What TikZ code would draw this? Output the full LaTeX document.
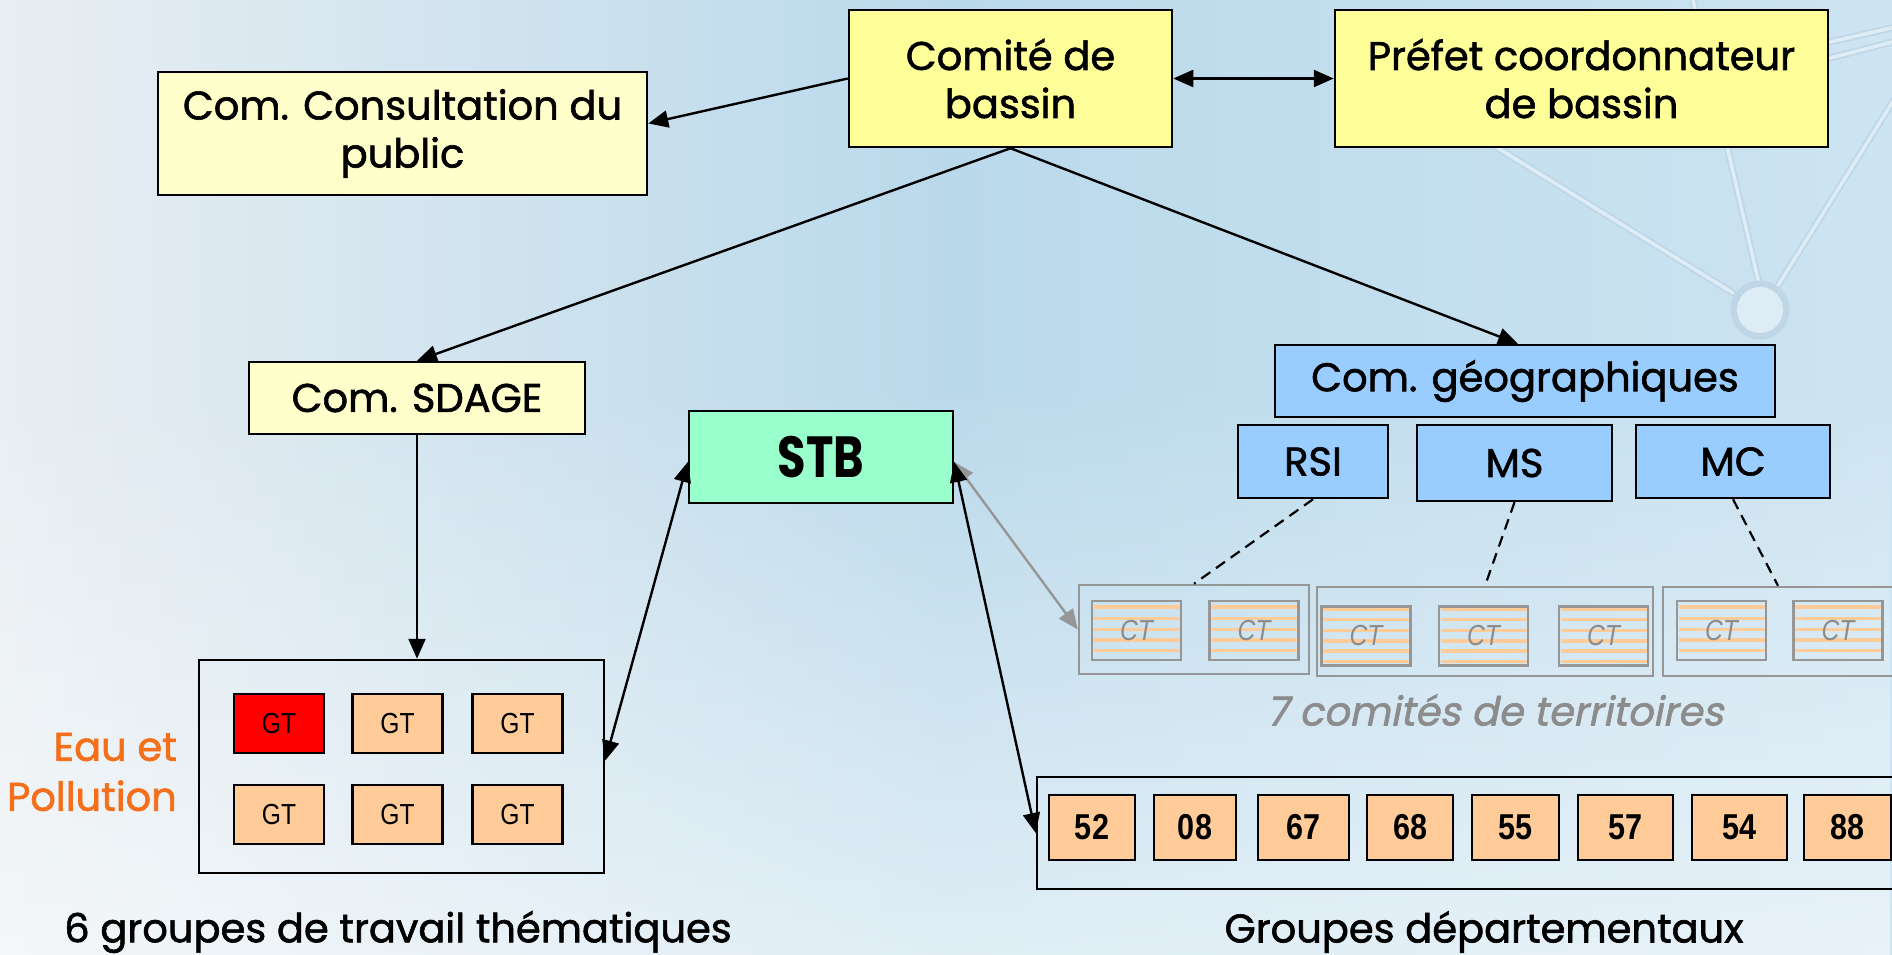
\documentclass[tikz,border=0pt]{standalone}
\usepackage{fontspec}
\setmainfont{Poppins}
\newfontfamily\cg[FakeBold=1.5]{Poppins}
\newfontfamily\cgb[FakeStretch=0.8]{Poppins}
\newfontfamily\cgit[FakeSlant=0.2,FakeBold=1.5]{Poppins}
\newfontfamily\ar[FakeStretch=0.85]{Liberation Sans}
\usetikzlibrary{arrows.meta,fadings,calc}
\definecolor{bgL}{RGB}{232,238,242}
\definecolor{bgM}{RGB}{186,217,235}
\definecolor{bgR}{RGB}{205,228,241}
\definecolor{netA}{RGB}{190,214,230}
\definecolor{netB}{RGB}{222,236,245}
\definecolor{ylight}{RGB}{255,255,204}
\definecolor{ystrong}{RGB}{255,255,153}
\definecolor{stbc}{RGB}{153,255,204}
\definecolor{bluec}{RGB}{153,204,255}
\definecolor{peach}{RGB}{255,204,153}
\definecolor{ctgray}{RGB}{150,150,150}
\definecolor{cttext}{RGB}{140,140,140}
\definecolor{orangec}{RGB}{245,110,25}
\tikzset{
  box/.style={draw=black, line width=2.5pt, inner sep=0pt, align=center,
    font=\cg\fontsize{40}{48}\selectfont},
  frame/.style={draw=black, line width=2.5pt, inner sep=0pt},
  ctframe/.style={draw=ctgray, line width=2.5pt, inner sep=0pt},
  gtbox/.style={draw=black, line width=2.5pt, fill=peach, inner sep=0pt,
    minimum width=90pt, minimum height=59pt, font=\ar\fontsize{29}{29}\selectfont},
  dbox/.style={draw=black, line width=2.5pt, fill=peach, inner sep=0pt,
    minimum height=65pt, font=\ar\bfseries\fontsize{36}{36}\selectfont},
  ctbox/.style={draw=ctgray, line width=2.5pt, inner sep=0pt,
    minimum width=89pt, minimum height=59pt, text=cttext,
    font=\ar\itshape\fontsize{29}{29}\selectfont},
  stripe/.style={draw=peach, line width=3.5pt},
  arr/.style={line width=2.4pt},
  garr/.style={line width=2.4pt, draw=ctgray, fill=ctgray},
  dashline/.style={line width=2.2pt, dash pattern=on 11pt off 7pt},
  net/.style={draw=netA, line width=7pt, line cap=round},
  netin/.style={draw=netB, line width=3.5pt, line cap=round},
  lbl/.style={inner sep=0pt, font=\cg\fontsize{40}{50}\selectfont},
}
\begin{document}
\begin{tikzpicture}[x=1pt,y=-1pt, >={Triangle[length=20pt,width=17pt]}]
\clip (0,0) rectangle (1892,955);
\shade[left color=bgL, right color=bgR, middle color=bgM] (0,0) rectangle (1892,955);
\fill[white, opacity=0.55, path fading=north] (0,380) rectangle (1892,955);
% decorative network
\foreach \a/\b in {{(1420,100)}/{(1733,293)}, {(1693,0)}/{(1760,288)}, {(1777,287)}/{(1900,90)}, {(1830,42)}/{(1900,26)}, {(1830,58)}/{(1900,40)}}{
  \draw[net] \a -- \b;
  \draw[netin] \a -- \b;
}
\draw[net] (1760,310) circle (26);
\fill[netB] (1760,310) circle (23);

% top boxes
\node[box, fill=ystrong, minimum width=323pt, minimum height=137pt] (comite) at (1010.5,78.5) {Comité de\\bassin};
\node[box, fill=ystrong, minimum width=493pt, minimum height=137pt] (prefet) at (1581.5,78.5) {Préfet coordonnateur\\de bassin};
\node[box, fill=ylight, minimum width=489pt, minimum height=123pt] (consult) at (402.5,133.5) {Com. Consultation du\\public};
\node[box, fill=ylight, minimum width=336pt, minimum height=72pt] (sdage) at (417,398) {Com. SDAGE};
\node[box, fill=stbc, minimum width=264pt, minimum height=92pt, font=\cgb\bfseries\fontsize{58}{58}\selectfont] (stb) at (821,457) {STB};
\node[box, fill=bluec, minimum width=500pt, minimum height=72pt] (geo) at (1525,381) {Com. géographiques};
\node[box, fill=bluec, minimum width=150pt, minimum height=73pt] (rsi) at (1313,461.5) {RSI};
\node[box, fill=bluec, minimum width=195pt, minimum height=76pt] (ms) at (1514.5,463) {MS};
\node[box, fill=bluec, minimum width=194pt, minimum height=73pt] (mc) at (1733,461.5) {MC};

% CT groups
\node[ctframe, minimum width=230pt, minimum height=89pt] (ctg1) at (1194,629.5) {};
\node[ctframe, minimum width=336pt, minimum height=89pt] (ctg2) at (1485,631.5) {};
\node[ctframe, minimum width=230pt, minimum height=89pt] (ctg3) at (1778,631.5) {};
\foreach \n/\cx/\cy in {ct1/1136.5/630.5, ct2/1254/630.5, ct6/1721.5/630.5, ct7/1838/630.5}{
  \foreach \o in {6,17.5,28.5,39,49.5}{
    \draw[stripe] (\cx-43,\cy-29.5+\o) -- (\cx+43,\cy-29.5+\o);
  }
  \node[ctbox] (\n) at (\cx,\cy) {CT};
}
\foreach \n/\cx/\cy in {ct3/1366/636, ct4/1483.5/636, ct5/1603.5/636}{
  \foreach \o in {3,13,24,34.5,44.5,55}{
    \draw[stripe] (\cx-43,\cy-29.5+\o) -- (\cx+43,\cy-29.5+\o);
  }
  \node[ctbox] (\n) at (\cx,\cy) {CT};
}
\node[lbl, text=cttext, font=\cgit\fontsize{40}{50}\selectfont] (lblct) at (1495,710) {7 comités de territoires};

% GT group
\node[frame, minimum width=405pt, minimum height=213pt] (gtf) at (401.5,766.5) {};
\node[gtbox, fill=red] (gt1) at (279,723.5) {GT};
\node[gtbox] (gt2) at (397.5,723.5) {GT};
\node[gtbox] (gt3) at (517.5,723.5) {GT};
\node[gtbox] (gt4) at (279,814.5) {GT};
\node[gtbox] (gt5) at (397.5,814.5) {GT};
\node[gtbox] (gt6) at (517.5,814.5) {GT};
\node[lbl, text=orangec, align=right, anchor=east] (lbleau) at (177,772) {Eau et\\Pollution};
\node[lbl] (lblgt) at (398,932) {6 groupes de travail thématiques};

% departements
\node[frame, minimum width=868pt, minimum height=112pt] (dep) at (1471,833) {};
\foreach \t/\cx/\w in {52/1092/86, 08/1195/82, 67/1303.5/91, 68/1410/86, 55/1515.5/87, 57/1625.5/95, 54/1739.5/95, 88/1847.5/87}{
  \node[dbox, minimum width=\w pt] (d\t) at (\cx,827.5) {\t};
}
\node[lbl] (lbldep) at (1484,932) {Groupes départementaux};

% connectors
\draw[arr,->] (comite.west) -- ([yshift=10pt]consult.east);
\draw[arr,<->] (comite.east) -- (prefet.west);
\draw[arr,->] (comite.south) -- (sdage.north);
\draw[arr,->] (comite.south) -- ([xshift=-7pt]geo.north);
\draw[arr,->] (sdage.south) -- (sdage.south |- gtf.north);
\draw[garr,<->] ([yshift=-5pt]stb.east) -- (ctg1.west);
\draw[arr,<->] ([yshift=-5pt]stb.west) -- ([yshift=6pt]gtf.east);
\draw[arr,<->] ([yshift=-5pt]stb.east) -- (dep.west);
\draw[dashline] (rsi.south) -- (ctg1.north);
\draw[dashline] (ms.south) -- (ctg2.north);
\draw[dashline] (mc.south) -- (ctg3.north);
\end{tikzpicture}
\end{document}
